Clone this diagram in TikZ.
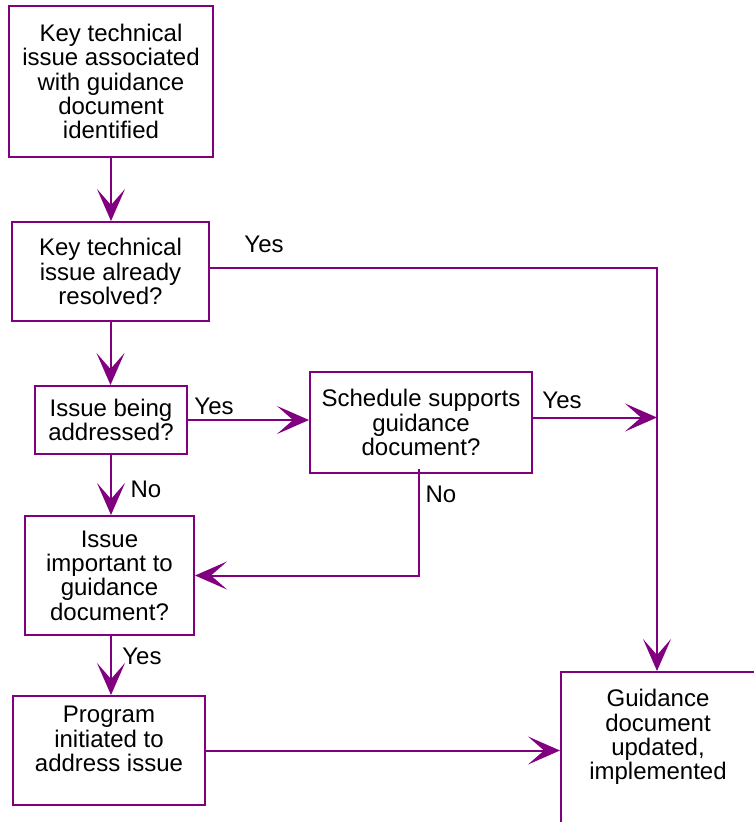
\documentclass[tikz,border=0pt]{standalone}
\usepackage{fontspec}
\setmainfont{Liberation Sans}
\usetikzlibrary{arrows.meta}
\definecolor{flowpurple}{RGB}{128,0,128}
\tikzset{
	box/.style={draw=flowpurple, line width=2pt, align=center, inner sep=0pt},
	flow/.style={draw=flowpurple, line width=2pt, -{Stealth[length=32pt, width=28pt, inset=16pt]}},
	lbl/.style={inner sep=0pt}
}
\begin{document}
\begin{tikzpicture}[x=1pt, y=-1pt, every node/.style={font=\fontsize{24}{24.3}\selectfont}]
	\useasboundingbox (0,0) rectangle (753,822);
	% boxes
	\node (ident) [box, minimum width=204pt, minimum height=151pt] at (111,81.5) {Key technical\\issue associated\\with guidance\\document\\identified};
	\node (resolved) [box, minimum width=197pt, minimum height=99pt] at (110.5,271.5) {Key technical\\issue already\\resolved?};
	\node (addressed) [box, minimum width=152pt, minimum height=68pt] at (111,420) {Issue being\\addressed?};
	\node (schedule) [box, minimum width=222pt, minimum height=101pt] at (421,422.5) {Schedule supports\\guidance\\document?};
	\node (important) [box, minimum width=169pt, minimum height=119pt] at (109.5,575.5) {Issue\\important to\\guidance\\document?};
	\node (program) [box, minimum width=192pt, minimum height=109pt] at (109,750.5) {};
	\node (programtext) [align=center] at (109,739) {Program\\initiated to\\address issue};
	\node (updated) [box, minimum width=196pt, minimum height=180pt] at (659,762) {};
	\node (updatedtext) [align=center] at (658,737) {Guidance\\document\\updated,\\implemented};
	% connectors
	\draw[flow] (ident.south) -- (ident.south |- resolved.north);
	\draw[flow] (resolved.south) -- (resolved.south |- addressed.north);
	\draw[flow] (addressed.south) -- (addressed.south |- important.north);
	\draw[flow] (important.south -| addressed.south) -- (addressed.south |- program.north);
	\draw[flow] ([yshift=4pt]resolved.east) -| (updated.north -| 657,0);
	\draw[flow] (addressed.east) -- (addressed.east -| schedule.west);
	\draw[flow] ([yshift=5pt]schedule.east) -- ([yshift=5pt]schedule.east -| 657,0);
	\draw[flow] ([xshift=-2pt, yshift=5pt]schedule.south) |- (important.east);
	\draw[flow] (program.east) -- (program.east -| updated.west);
	% labels
	\node (yesresolved) [lbl] at (264,244) {Yes};
	\node (yesaddressed) [lbl] at (214,406) {Yes};
	\node (yesschedule) [lbl] at (562,400) {Yes};
	\node (noaddressed) [lbl] at (146,489) {No};
	\node (noschedule) [lbl] at (441,494) {No};
	\node (yesimportant) [lbl] at (142,656) {Yes};
\end{tikzpicture}
\end{document}
